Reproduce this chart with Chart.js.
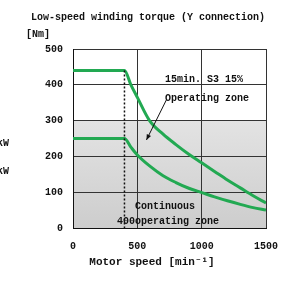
<!DOCTYPE html>
<html>
<head>
<meta charset="utf-8">
<script src="https://cdn.jsdelivr.net/npm/chart.js@4/dist/chart.umd.min.js"></script>
<style>
  html, body { margin:0; padding:0; background:#fff; }
  canvas { display:block; }
</style>
</head>
<body>
<canvas id="torque" width="281" height="281"></canvas>
<script>
// ===== data =====
const speedUpper  = [0, 400, 450, 500, 595, 700, 800, 900, 1000, 1100, 1200, 1300, 1400, 1500];
const torqueUpper = [440, 440, 400, 365, 300, 262, 233, 206, 182, 158, 134, 112, 90, 70];

const speedLower  = [0, 400, 450, 500, 600, 700, 800, 900, 1000, 1100, 1200, 1300, 1400, 1500];
const torqueLower = [250, 250, 226, 204, 172, 146, 127, 111, 99, 87, 76, 66, 57, 50];

const cornerSpeed = [400, 400];
const cornerTorque = [440, 0];

const xTicks = [0, 500, 1000, 1500];
const yTicks = [0, 100, 200, 300, 400, 500];

const FONT = '"Liberation Mono", "DejaVu Sans Mono", monospace';
const GREEN = '#22a952';

const toPts = (xs, ys) => xs.map((x,i) => ({ x, y: ys[i] }));

// gray band under 300 Nm + all the labels
const decor = {
  id: 'decor',
  beforeDraw(chart) {
    const { ctx, chartArea: a, scales: { x, y } } = chart;
    const top = y.getPixelForValue(300), bot = y.getPixelForValue(0);
    const g = ctx.createLinearGradient(0, top, 0, bot);
    g.addColorStop(0, '#e3e3e3');
    g.addColorStop(1, '#cdcdcd');
    ctx.save();
    ctx.fillStyle = g;
    ctx.fillRect(a.left, top, a.right - a.left, bot - top);
    ctx.restore();
  },
  afterDraw(chart) {
    const { ctx, scales: { x, y } } = chart;
    ctx.save();
    ctx.fillStyle = '#111';
    ctx.textBaseline = 'middle';

    ctx.font = 'bold 10px ' + FONT;
    ctx.textAlign = 'center';
    ctx.fillText('Low-speed winding torque (Y connection)', 148, 17);
    ctx.fillText('[Nm]', 38, 34);

    ctx.font = 'bold 11px ' + FONT;
    ctx.fillText('Motor speed [min\u207B\u00B9]', 152, 262);

    ctx.font = 'bold 10px ' + FONT;
    ctx.textAlign = 'right';
    ctx.fillText('kW', 9, 143);
    ctx.fillText('kW', 9, 171);

    ctx.textAlign = 'left';
    ctx.fillText('15min. S3 15%', 165, 79);
    ctx.fillText('Operating zone', 165, 98);
    ctx.fillText('Continuous', 135, 206);
    ctx.fillText('400operating zone', 117, 221);

    // arrow pointing into the zone
    const x1 = x.getPixelForValue(726), y1 = y.getPixelForValue(358);
    const x2 = x.getPixelForValue(571), y2 = y.getPixelForValue(246);
    ctx.strokeStyle = '#111';
    ctx.lineWidth = 1;
    ctx.beginPath(); ctx.moveTo(x1, y1); ctx.lineTo(x2, y2); ctx.stroke();
    const ang = Math.atan2(y2 - y1, x2 - x1);
    ctx.beginPath();
    ctx.moveTo(x2, y2);
    ctx.lineTo(x2 - 6*Math.cos(ang - 0.4), y2 - 6*Math.sin(ang - 0.4));
    ctx.lineTo(x2 - 6*Math.cos(ang + 0.4), y2 - 6*Math.sin(ang + 0.4));
    ctx.closePath(); ctx.fill();
    ctx.restore();
  }
};

new Chart(document.getElementById('torque'), {
  type: 'line',
  data: {
    datasets: [
      { data: toPts(cornerSpeed, cornerTorque), borderColor: '#111', borderWidth: 1.5,
        borderDash: [2, 2], pointRadius: 0, fill: false },
      { data: toPts(speedUpper, torqueUpper), borderColor: GREEN, borderWidth: 3,
        pointRadius: 0, cubicInterpolationMode: 'monotone', fill: false },
      { data: toPts(speedLower, torqueLower), borderColor: GREEN, borderWidth: 3,
        pointRadius: 0, cubicInterpolationMode: 'monotone', fill: false }
    ]
  },
  options: {
    responsive: false,
    animation: false,
    layout: { padding: { top: 49, right: 15, left: 0, bottom: 0 } },
    plugins: { legend: { display: false }, tooltip: { enabled: false } },
    scales: {
      x: {
        type: 'linear', min: 0, max: 1500,
        afterBuildTicks: s => { s.ticks = xTicks.map(v => ({ value: v })); },
        afterFit: s => { s.height = 53; s.paddingLeft = 0; s.paddingRight = 0; },
        ticks: { color: '#111', font: { family: FONT, size: 10, weight: 'bold' }, padding: 12,
                 maxRotation: 0, callback: v => String(v) },
        grid: { color: '#333', lineWidth: 1, drawTicks: false },
        border: { color: '#111', width: 1 }
      },
      y: {
        type: 'linear', min: 0, max: 500,
        afterBuildTicks: s => { s.ticks = yTicks.map(v => ({ value: v })); },
        afterFit: s => { s.width = 73; s.paddingTop = 0; s.paddingBottom = 0; },
        ticks: { color: '#111', font: { family: FONT, size: 10, weight: 'bold' }, padding: 10,
                 callback: v => String(v) },
        grid: { color: '#333', lineWidth: 1, drawTicks: false },
        border: { color: '#111', width: 1 }
      }
    }
  },
  plugins: [decor]
});
</script>
</body>
</html>
